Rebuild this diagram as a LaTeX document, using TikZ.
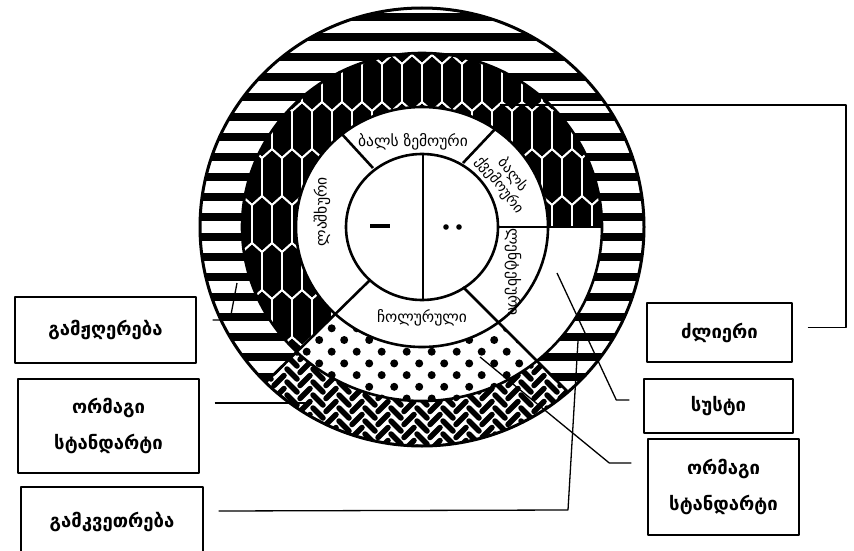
\documentclass[tikz,border=0pt]{standalone}
\usepackage{fontspec}
\newfontfamily\geo{DejaVu Sans}
\usetikzlibrary{positioning}

\begin{document}
\begin{tikzpicture}[x=1pt,y=-1pt,line join=round,
  box/.style={draw,line width=1.4pt,align=center,inner sep=2pt,font=\geo\bfseries\fontsize{18.5}{36}\selectfont},
  seg/.style={align=center,inner sep=1pt,font=\geo\fontsize{15.5}{16}\selectfont},
  wire/.style={line width=1.3pt},
  rim/.style={line width=2.6pt}]
  \clip (0,0) rectangle (854,551);
  \fill[white] (0,0) rectangle (854,551);
  % outer ring: stripes, herringbone at the bottom
  \begin{scope}[even odd rule]
    \clip (422,227) ellipse [x radius=222,y radius=219]
          (422,227) ellipse [x radius=180,y radius=174];
    \begin{scope}
      \clip (413,237) -- (720,544) -- (720,-60) -- (100,-60) -- (100,545) -- cycle;
      \foreach \k in {0,...,22} \fill (190,13+20*\k) rectangle (660,21+20*\k);
    \end{scope}
    \begin{scope}
      \clip (413,237) -- (100,545) -- (100,600) -- (720,600) -- (720,544) -- cycle;
      \foreach \i in {0,...,27}{
        \pgfmathsetmacro\s{ifthenelse(mod(\i,2)==0,1,-1)}
        \foreach \j in {0,...,11}
          \draw[line width=5.5pt,line cap=round] ({240+13*\i-5},{322+13*\j+3.25*(1-\s)-5*\s}) -- ++(10,{10*\s});
      }
    \end{scope}
  \end{scope}
  % middle band: honeycomb, dots
  \begin{scope}[even odd rule]
    \clip (422,227) ellipse [x radius=180,y radius=174]
          (422,227) ellipse [x radius=126,y radius=120];
    \begin{scope}
      \clip (424,227) -- (720,227) -- (720,-60) -- (100,-60) -- (100,545) -- cycle;
      \fill (200,0) rectangle (650,460);
      \foreach \j in {0,...,10}
        \foreach \i in {0,...,23}
          \draw[white,line width=1.8pt] ({222+20*\i+10*mod(\j,2)},{8+47*\j}) -- ++(10,9) -- ++(0,38) -- ++(-10,9) -- ++(-10,-9) -- ++(0,-38) -- cycle;
    \end{scope}
    \begin{scope}
      \clip (413,237) -- (100,545) -- (100,600) -- (720,600) -- (720,544) -- cycle;
      \foreach \j in {0,...,8}
        \foreach \i in {0,...,14}
          \fill ({281.7+25*\i+12.5*mod(\j,2)},{328.3+11.7*\j}) circle [radius=4];
    \end{scope}
  \end{scope}
  % rings and dividers
  \draw[line width=3pt] (422,227) ellipse [x radius=222,y radius=219];
  \draw[rim] (422,227) ellipse [x radius=180,y radius=174];
  \draw[rim] (422,227) ellipse [x radius=126,y radius=120];
  \draw[rim] (422,227) ellipse [x radius=76,y radius=73];
  \draw[rim] (423,154) -- (423,300);
  \draw[rim] (340,132) -- (373,168);
  \draw[rim] (463,163) -- (497,127);
  \draw[rim] (498,227) -- (602,227);
  \draw[rim] (370,280) -- (265,383);
  \draw[rim] (463,287) -- (567,391);
  \draw[line width=3.5pt] (370,226) -- (390,226);
  \fill (446,227) circle [radius=2.8] (459,227) circle [radius=2.8];

  \node[seg] (upbal) at (413,142) {ბალს ზემოური};
  \node[seg,rotate=-52,font=\geo\fontsize{14.5}{15}\selectfont] (lowbal) at (506,180) {ბალს\\ქვემოური};
  \node[seg,rotate=-90] (lent) at (513,272) {ლენტეხური};
  \node[seg,rotate=90] (lash) at (322,212) {ლაშხური};
  \node[seg] (chol) at (422,318) {ჩოლურული};

  \node[box,minimum width=181,minimum height=66] (voice) at (105.5,330) {გამჟღერება};
  \node[box,minimum width=181,minimum height=94] (dblL) at (108.5,426) {ორმაგი\\სტანდარტი};
  \node[box,minimum width=182,minimum height=70] (sharp) at (112,522) {\raisebox{5pt}{გამკვეთრება}};
  \node[box,minimum width=145,minimum height=59] (strong) at (719.5,332.5) {ძლიერი};
  \node[box,minimum width=149,minimum height=54] (weak) at (718.5,406) {სუსტი};
  \node[box,minimum width=151,minimum height=96] (dblR) at (723.5,487) {ორმაგი\\სტანდარტი};

  \coordinate (hexpt) at (500,105);
  \coordinate (whitept) at (557,273);
  \coordinate (dotpt) at (480,357);
  \coordinate (stripept) at (578,341);
  \coordinate (herrpt) at (312,403);
  \coordinate (voicept) at (237,283);
  \draw[wire] ([xshift=15pt,yshift=5pt]strong.east) -| (846,105) -- (hexpt);
  \draw[wire] ([xshift=-14pt,yshift=6pt]weak.west) -- ++(-13,0) -- (whitept);
  \draw[wire] ([xshift=-16pt,yshift=24pt]dblR.west) -- ++(-22,0) -- (dotpt);
  \draw[wire] ([xshift=15pt,yshift=11pt]sharp.east) -- (568,510) -- (stripept);
  \draw[wire] ([xshift=15pt,yshift=23pt]dblL.east) -- (herrpt);
  \draw[wire] ([xshift=16pt,yshift=10pt]voice.east) -- (230,320) -- (voicept);
\end{tikzpicture}
\end{document}
